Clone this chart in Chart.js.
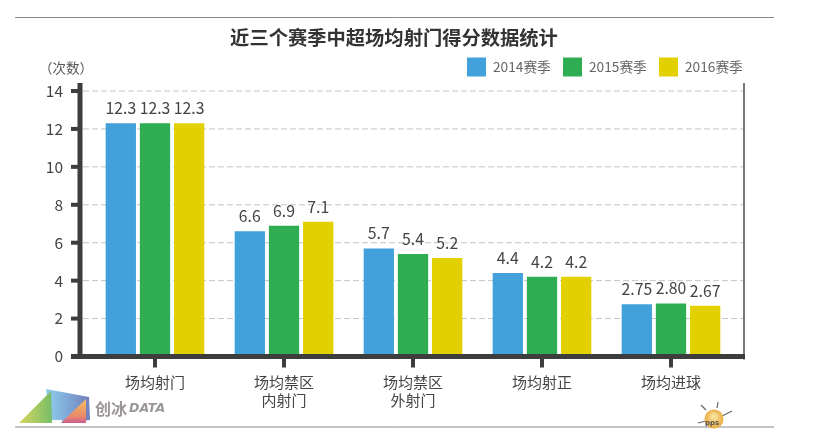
<!DOCTYPE html>
<html>
<head>
<meta charset="utf-8">
<style>
  html, body { margin: 0; padding: 0; background: #fff; }
  canvas { display: block; }
</style>
<script src="https://cdn.jsdelivr.net/npm/chart.js@4"></script>
</head>
<body>
<canvas id="barChart" width="827" height="441"></canvas>
<script>
const chartTitle = '近三个赛季中超场均射门得分数据统计';
const unitLabel = '（次数）';
const categories = [['场均射门'], ['场均禁区', '内射门'], ['场均禁区', '外射门'], ['场均射正'], ['场均进球']];
const seriesNames = ['2014赛季', '2015赛季', '2016赛季'];
const values2014 = [12.3, 6.6, 5.7, 4.4, 2.75];
const values2015 = [12.3, 6.9, 5.4, 4.2, 2.80];
const values2016 = [12.3, 7.1, 5.2, 4.2, 2.67];
const valueLabels2014 = ['12.3', '6.6', '5.7', '4.4', '2.75'];
const valueLabels2015 = ['12.3', '6.9', '5.4', '4.2', '2.80'];
const valueLabels2016 = ['12.3', '7.1', '5.2', '4.2', '2.67'];
const seriesColors = ['#42a1db', '#2ead52', '#e2d000'];

const cjk = '"Noto Sans CJK SC", "Noto Sans", sans-serif';
const allLabels = [valueLabels2014, valueLabels2015, valueLabels2016];

// rules, gridlines and the page furniture behind the bars
const backdrop = {
  id: 'backdrop',
  beforeDatasetsDraw(chart) {
    const ctx = chart.ctx;
    const y = chart.scales.y;
    ctx.save();
    ctx.strokeStyle = '#8a8a8a';
    ctx.lineWidth = 1;
    [17.5, 427].forEach(p => {
      ctx.beginPath();
      ctx.moveTo(15, p);
      ctx.lineTo(774, p);
      ctx.stroke();
    });
    ctx.strokeStyle = '#c4c4c4';
    ctx.setLineDash([6, 3]);
    y.ticks.forEach(t => {
      if (t.value === 0) return;
      const py = y.getPixelForValue(t.value);
      ctx.beginPath();
      ctx.moveTo(83, py);
      ctx.lineTo(743, py);
      ctx.stroke();
    });
    ctx.restore();
  }
};

// axes sit on top of the bars, plus value labels, title, legend and logos
const overlay = {
  id: 'overlay',
  afterDatasetsDraw(chart) {
    const ctx = chart.ctx;
    const x = chart.scales.x;
    const y = chart.scales.y;
    const base = y.getPixelForValue(0);
    ctx.save();

    // right border
    ctx.fillStyle = '#777';
    ctx.fillRect(743, 83, 2, base - 80);

    // axes
    ctx.fillStyle = '#3d3d3d';
    ctx.fillRect(77.5, 83, 5, base - 83);
    ctx.fillRect(71, base - 2.5, 674, 5);
    y.ticks.forEach(t => {
      ctx.fillRect(71, y.getPixelForValue(t.value) - 2, 8, 4);
    });
    categories.forEach((c, i) => {
      ctx.fillRect(x.getPixelForValue(i) - 2, base, 4, 11);
    });

    // value labels
    ctx.fillStyle = '#444';
    ctx.font = '15.8px ' + cjk;
    ctx.textAlign = 'center';
    ctx.textBaseline = 'alphabetic';
    chart.data.datasets.forEach((ds, di) => {
      chart.getDatasetMeta(di).data.forEach((bar, i) => {
        ctx.fillText(allLabels[di][i], bar.x, bar.y - 9);
      });
    });

    // title + unit
    ctx.fillStyle = '#333';
    ctx.font = 'bold 19.3px ' + cjk;
    ctx.textBaseline = 'middle';
    ctx.fillText(chartTitle, 394, 38);
    ctx.fillStyle = '#555';
    ctx.font = '13.5px ' + cjk;
    ctx.fillText(unitLabel, 66, 68);

    // legend
    const boxX = [467, 563, 659];
    ctx.font = '13.7px ' + cjk;
    ctx.textAlign = 'left';
    seriesNames.forEach((name, i) => {
      ctx.fillStyle = seriesColors[i];
      ctx.fillRect(boxX[i], 57.5, 19, 19);
      ctx.fillStyle = '#666';
      ctx.fillText(name, boxX[i] + 26, 67);
    });

    drawLogo(ctx);
    drawBadge(ctx);
    ctx.restore();
  }
};

function poly(ctx, pts, fill) {
  ctx.fillStyle = fill;
  ctx.beginPath();
  pts.forEach((p, i) => i ? ctx.lineTo(p[0], p[1]) : ctx.moveTo(p[0], p[1]));
  ctx.closePath();
  ctx.fill();
}

function drawLogo(ctx) {
  let g = ctx.createLinearGradient(46, 0, 90, 0);
  g.addColorStop(0, '#8fd0ee');
  g.addColorStop(1, '#6f7fbe');
  poly(ctx, [[46, 389], [89, 397], [90, 420], [62, 423], [51, 423]], g);
  g = ctx.createLinearGradient(19, 0, 52, 0);
  g.addColorStop(0, '#d6d75f');
  g.addColorStop(1, '#78bd68');
  poly(ctx, [[19, 423], [51, 391], [52, 423]], g);
  ctx.fillStyle = '#fff';
  ctx.fillRect(52, 420, 10, 5);
  g = ctx.createLinearGradient(0, 398, 0, 424);
  g.addColorStop(0, '#f7c15a');
  g.addColorStop(0.7, '#e98a6c');
  g.addColorStop(1, '#c9559a');
  poly(ctx, [[61, 423], [86, 399], [86, 423]], g);
  ctx.fillStyle = '#9c9696';
  ctx.textAlign = 'left';
  ctx.textBaseline = 'middle';
  ctx.font = 'bold 16px ' + cjk;
  ctx.fillText('创冰', 95, 409);
  ctx.font = 'italic bold 12.5px "DejaVu Sans", sans-serif';
  ctx.fillText('DATA', 129, 409);
}

function drawBadge(ctx) {
  ctx.strokeStyle = '#666';
  ctx.lineWidth = 1.2;
  [[706, 410, 701, 405], [717, 408, 718, 402], [722, 416, 732, 411], [706, 421, 698, 423]].forEach(s => {
    ctx.beginPath();
    ctx.moveTo(s[0], s[1]);
    ctx.lineTo(s[2], s[3]);
    ctx.stroke();
  });
  const g = ctx.createRadialGradient(714, 416, 1, 714, 419, 10);
  g.addColorStop(0, '#fbe3a0');
  g.addColorStop(1, '#e8a83c');
  ctx.fillStyle = g;
  ctx.beginPath();
  ctx.arc(714, 419, 9.5, 0, Math.PI * 2);
  ctx.fill();
  ctx.fillStyle = '#555';
  ctx.font = 'bold 7px "DejaVu Sans", sans-serif';
  ctx.textAlign = 'center';
  ctx.fillText('pps', 712, 423);
}

const data = {
  labels: categories,
  datasets: [
    { label: seriesNames[0], data: values2014, backgroundColor: seriesColors[0] },
    { label: seriesNames[1], data: values2015, backgroundColor: seriesColors[1] },
    { label: seriesNames[2], data: values2016, backgroundColor: seriesColors[2] }
  ]
};

const config = {
  type: 'bar',
  data: data,
  options: {
    responsive: false,
    animation: false,
    devicePixelRatio: 1,
    categoryPercentage: 0.795,
    barPercentage: 0.886,
    layout: {
      autoPadding: false,
      padding: { top: 91, right: 91.5, left: 0, bottom: 0 }
    },
    plugins: {
      legend: { display: false },
      tooltip: { enabled: false }
    },
    scales: {
      x: {
        grid: { display: false, drawTicks: false },
        border: { display: false },
        afterFit: scale => { scale.height = 84.5; },
        ticks: {
          color: '#444',
          padding: 16,
          maxRotation: 0,
          autoSkip: false,
          font: { family: cjk, size: 15, lineHeight: 1.25 }
        }
      },
      y: {
        min: 0,
        max: 14,
        grid: { display: false, drawTicks: false },
        border: { display: false },
        afterFit: scale => { scale.width = 90.5; },
        ticks: {
          stepSize: 2,
          color: '#444',
          padding: 27.5,
          font: { family: cjk, size: 15.5 }
        }
      }
    }
  },
  plugins: [backdrop, overlay]
};

const myChart = new Chart(document.getElementById('barChart'), config);
</script>
</body>
</html>
